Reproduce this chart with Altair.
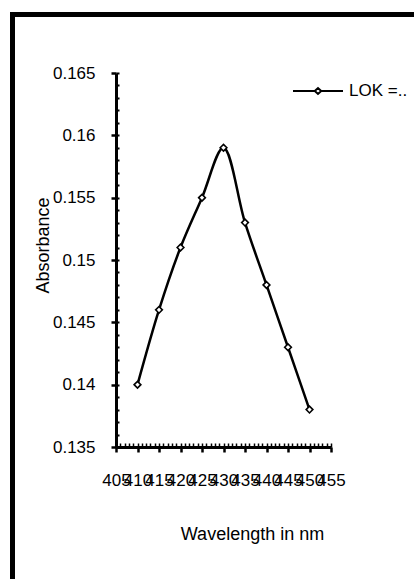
import altair as alt
import pandas as pd

# ---- data ----
wavelength = [410, 415, 420, 425, 430, 435, 440, 445, 450]
absorbance = [0.140, 0.146, 0.151, 0.155, 0.159, 0.153, 0.148, 0.143, 0.138]
series_name = "LOK =.."
x_major = [405, 410, 415, 420, 425, 430, 435, 440, 445, 450, 455]
x_minor = list(range(405, 456))
y_major = [0.135, 0.14, 0.145, 0.15, 0.155, 0.16, 0.165]
y_minor = [round(0.135 + 0.001 * i, 3) for i in range(31)]

df = pd.DataFrame({"Wavelength": wavelength, "Absorbance": absorbance,
                   "series": [series_name] * len(wavelength)})

FONT = "Liberation Sans"
W, H = 215, 374
xs = alt.Scale(domain=[405, 455], nice=False, zero=False)
ys = alt.Scale(domain=[0.135, 0.165], nice=False, zero=False)

frame = alt.Chart(pd.DataFrame({"a": [0]})).mark_rect(
    fillOpacity=0, stroke="black", strokeWidth=5
).encode(
    x=alt.value(-103.5), x2=alt.value(330),
    y=alt.value(-58.5), y2=alt.value(540)
)

line = alt.Chart(df).mark_line(
    interpolate="catmull-rom", strokeWidth=2.5
).encode(
    x=alt.X("Wavelength:Q", scale=xs, axis=alt.Axis(
        orient="bottom", values=x_major, format="d",
        title="Wavelength in nm", titleFont=FONT, titleFontSize=18,
        titleFontWeight="normal", titleColor="black",
        titleX=136, titleY=92, titleAlign="center", titleBaseline="alphabetic",
        labelFont=FONT, labelFontSize=17, labelColor="black",
        labelOverlap=False, labelFlush=False, labelPadding=20,
        tickSize=5, tickWidth=2.5, tickColor="black",
        domainWidth=3, domainColor="black", grid=False)),
    y=alt.Y("Absorbance:Q", scale=ys, axis=alt.Axis(
        orient="left", values=y_major, format=".3~f",
        title="Absorbance", titleFont=FONT, titleFontSize=18,
        titleFontWeight="normal", titleColor="black",
        titleX=-68, titleY=172, titleAngle=270, titleAlign="center",
        titleBaseline="alphabetic",
        labelFont=FONT, labelFontSize=17, labelColor="black",
        labelOverlap=False, labelFlush=False, labelPadding=16,
        tickSize=5, tickWidth=2.5, tickColor="black",
        domainWidth=3, domainColor="black", grid=False)),
    color=alt.Color("series:N", scale=alt.Scale(range=["black"]),
                    legend=alt.Legend(
                        title=None, orient="none", legendX=176, legendY=-8,
                        symbolType="M-1,0H-0.13M0.13,0H1M-0.13,0L0,-0.12L0.13,0L0,0.12Z",
                        symbolSize=2500, symbolStrokeWidth=2,
                        symbolStrokeColor="black", symbolFillColor="white",
                        labelFont=FONT, labelFontSize=17, labelColor="black",
                        labelOffset=5, padding=0))
)

points = alt.Chart(df).mark_point(
    shape="diamond", filled=True, fill="white", stroke="black",
    strokeWidth=1.6, size=45, opacity=1
).encode(
    x=alt.X("Wavelength:Q", scale=xs, axis=alt.Axis(
        orient="top", offset=-H, values=x_minor, labels=False, domain=False,
        title=None, tickSize=4, tickWidth=1.5, tickColor="black", grid=False)),
    y=alt.Y("Absorbance:Q", scale=ys, axis=alt.Axis(
        orient="right", offset=-W, values=y_minor, labels=False, domain=False,
        title=None, tickSize=3, tickWidth=2, tickColor="black", grid=False)),
)

chart = alt.layer(frame, line, points).resolve_axis(
    x="independent", y="independent"
).properties(
    width=W, height=H,
    autosize=alt.AutoSizeParams(type="none"),
    padding={"left": 116, "top": 73, "right": 83, "bottom": 132},
    background="white"
).configure_view(strokeWidth=0)

chart.save("out.html", embed_options={"renderer": "svg", "actions": False})
